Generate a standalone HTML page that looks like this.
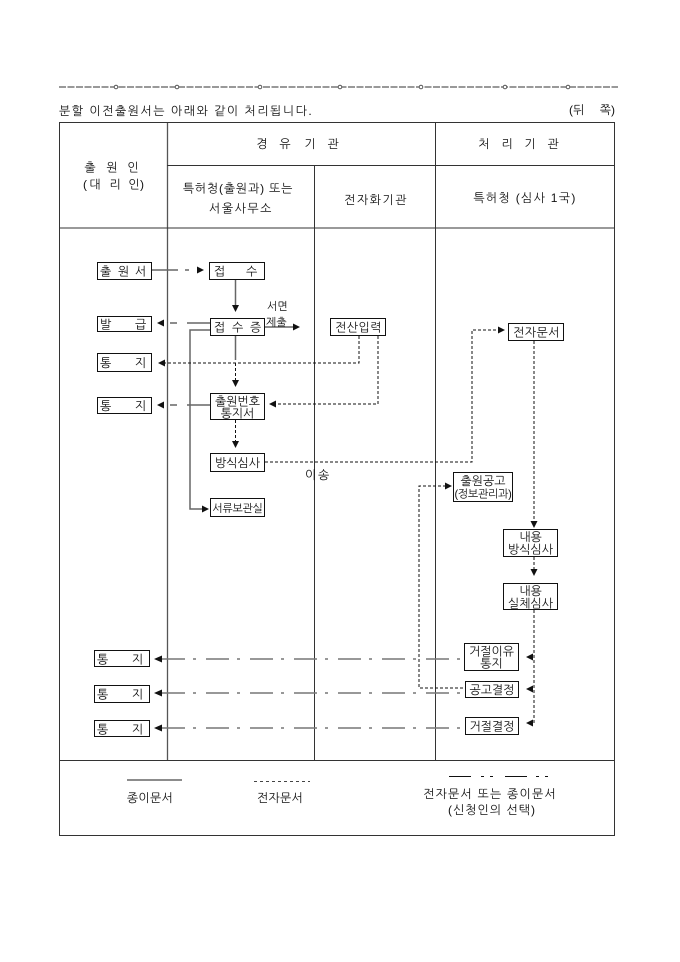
<!DOCTYPE html>
<html><head><meta charset="utf-8"><style>
html,body{margin:0;padding:0;background:#fff;}
svg{display:block;}
text{font-family:"Liberation Sans","NanumGothic","Noto Sans CJK KR",sans-serif;fill:#111;}
.t12{font-size:12px;}
.t11{font-size:11px;}
.b12{font-size:12px;}
.bx{fill:#fff;stroke:#111;stroke-width:1;}
.tb{stroke:#333;stroke-width:1;fill:none;}
.pp{stroke:#666;stroke-width:1.5;fill:none;}
.el{stroke:#111;stroke-width:1;stroke-dasharray:3 2;fill:none;}
.dd{stroke:#777;stroke-width:1.5;stroke-dasharray:23 8 3 10;fill:none;}
.ah{fill:#111;}
</style></head><body>
<svg width="680" height="962" viewBox="0 0 680 962" xmlns="http://www.w3.org/2000/svg">
<rect width="680" height="962" fill="#fff"/>
<!-- top dashed line -->
<line x1="59" y1="87" x2="618" y2="87" stroke="#333" stroke-width="1" stroke-dasharray="7 1.5"/>
<g fill="#fff" stroke="#555" stroke-width="1">
<circle cx="116" cy="87" r="1.8"/><circle cx="177" cy="87" r="1.8"/><circle cx="260" cy="87" r="1.8"/>
<circle cx="340" cy="87" r="1.8"/><circle cx="421" cy="87" r="1.8"/><circle cx="505" cy="87" r="1.8"/><circle cx="568" cy="87" r="1.8"/>
</g>
<text class="t12" x="59" y="115" letter-spacing="1.5">분할 이전출원서는 아래와 같이 처리됩니다.</text>
<text class="t12" x="569" y="114">(뒤</text>
<text class="t12" x="615" y="114" text-anchor="end">쪽)</text>

<!-- table -->
<rect class="tb" x="59.5" y="122.5" width="555" height="713"/>
<line x1="167.5" y1="123" x2="167.5" y2="760" stroke="#555" stroke-width="1.3"/>
<line class="tb" x1="435.5" y1="123" x2="435.5" y2="760"/>
<line class="tb" x1="314.5" y1="165" x2="314.5" y2="760"/>
<line class="tb" x1="167" y1="165.5" x2="614" y2="165.5"/>
<line class="tb" x1="59" y1="228" x2="614" y2="228"/>
<line class="tb" x1="59" y1="760.5" x2="614" y2="760.5"/>

<!-- headers -->
<g class="t12" text-anchor="middle">
<text x="90" y="171.5">출</text><text x="112" y="171.5">원</text><text x="133" y="171.5">인</text>
<text x="85" y="188.5">(</text><text x="95" y="188.5">대</text><text x="115" y="188.5">리</text><text x="134" y="188.5">인</text><text x="142" y="188.5">)</text>
<text x="262" y="148">경</text><text x="285" y="148">유</text><text x="310" y="148">기</text><text x="333" y="148">관</text>
<text x="484" y="148">처</text><text x="507" y="148">리</text><text x="530" y="148">기</text><text x="553" y="148">관</text>
</g>
<text class="t12" x="238" y="192.5" text-anchor="middle" letter-spacing="0.8">특허청(출원과) 또는</text>
<text class="t12" x="241" y="212.5" text-anchor="middle" letter-spacing="1.5">서울사무소</text>
<text class="t12" x="376" y="204" text-anchor="middle" letter-spacing="1.5">전자화기관</text>
<text class="t12" x="525" y="202" text-anchor="middle" letter-spacing="1.3">특허청 (심사 1국)</text>

<!-- connectors: paper (solid gray) -->
<line class="pp" x1="152" y1="270" x2="178" y2="270"/>
<line class="pp" x1="185" y1="270" x2="189" y2="270"/>
<polygon class="ah" points="204,270 197,266.5 197,273.5"/>

<line class="pp" x1="235.5" y1="280" x2="235.5" y2="306"/>
<polygon class="ah" points="235.5,312 232,305 239,305"/>

<line class="pp" x1="210" y1="323" x2="187" y2="323"/>
<line class="pp" x1="177" y1="323" x2="170" y2="323"/>
<polygon class="ah" points="157,323 164,319.5 164,326.5"/>

<line class="pp" x1="265" y1="327" x2="294" y2="327"/>
<polygon class="ah" points="300,327 293,323.5 293,330.5"/>

<polyline class="pp" points="210,330 190,330 190,509 203,509"/>
<polygon class="ah" points="209,509 202,505.5 202,512.5"/>

<line class="pp" x1="235.5" y1="336" x2="235.5" y2="360"/>
<line class="el" x1="235.5" y1="363" x2="235.5" y2="380"/>
<polygon class="ah" points="235.5,387 232,380 239,380"/>

<line class="pp" x1="210" y1="405" x2="187" y2="405"/>
<line class="pp" x1="177" y1="405" x2="170" y2="405"/>
<polygon class="ah" points="157,405 164,401.5 164,408.5"/>

<!-- electronic (dotted) -->
<polyline class="el" points="359,336 359,363 164,363"/>
<polygon class="ah" points="158,363 165,359.5 165,366.5"/>
<polyline class="el" points="378,336 378,404 275,404"/>
<polygon class="ah" points="269,404 276,400.5 276,407.5"/>
<line class="el" x1="235.5" y1="420" x2="235.5" y2="441"/>
<polygon class="ah" points="235.5,448 232,441 239,441"/>
<polyline class="el" points="265,462 472,462 472,330 499,330"/>
<polygon class="ah" points="505,330 498,326.5 498,333.5"/>
<line class="el" x1="534" y1="341" x2="534" y2="521"/>
<polygon class="ah" points="534,528 530.5,521 537.5,521"/>
<line class="el" x1="534" y1="557" x2="534" y2="569"/>
<polygon class="ah" points="534,576 530.5,569 537.5,569"/>
<polyline class="el" points="534,610 534,723 532,723"/>
<polygon class="ah" points="526,657 533,653.5 533,660.5"/>
<polygon class="ah" points="526,689 533,685.5 533,692.5"/>
<polygon class="ah" points="526,723 533,719.5 533,726.5"/>
<polyline class="el" points="446,486 419,486 419,688 465,688"/>
<polygon class="ah" points="452,486 445,482.5 445,489.5"/>

<!-- dash-dot -->
<line class="dd" x1="162" y1="659" x2="464" y2="659"/>
<polygon class="ah" points="154,659 162,655.5 162,662.5"/>
<line class="dd" x1="162" y1="693" x2="465" y2="693"/>
<polygon class="ah" points="154,693 162,689.5 162,696.5"/>
<line class="dd" x1="162" y1="728" x2="465" y2="728"/>
<polygon class="ah" points="154,728 162,724.5 162,731.5"/>

<!-- boxes -->
<rect class="bx" x="97.5" y="262.5" width="54" height="17"/>
<g class="b12"><text x="100" y="275.5">출</text><text x="118" y="275.5">원</text><text x="135" y="275.5">서</text></g>
<rect class="bx" x="209.5" y="262.5" width="55" height="17"/>
<g class="b12"><text x="214" y="275.5">접</text><text x="246" y="275.5">수</text></g>
<rect class="bx" x="97.5" y="316.5" width="54" height="15"/>
<g class="b12"><text x="100" y="328.5">발</text><text x="135" y="328.5">급</text></g>
<rect class="bx" x="210.5" y="318.5" width="54" height="17"/>
<g class="b12"><text x="214" y="331.5">접</text><text x="232" y="331.5">수</text><text x="250" y="331.5">증</text></g>
<text class="t11" x="267" y="310">서면</text>
<text class="t11" x="266" y="326">제출</text>
<rect class="bx" x="330.5" y="318.5" width="55" height="17"/>
<text class="b12" x="358.5" y="331.5" text-anchor="middle" letter-spacing="0.5">전산입력</text>
<rect class="bx" x="97.5" y="353.5" width="54" height="18"/>
<g class="b12"><text x="100" y="367">통</text><text x="135" y="367">지</text></g>
<rect class="bx" x="97.5" y="397.5" width="54" height="16"/>
<g class="b12"><text x="100" y="410">통</text><text x="135" y="410">지</text></g>
<rect class="bx" x="210.5" y="393.5" width="54" height="26"/>
<text class="b12" x="237.5" y="405.5" text-anchor="middle">출원번호</text>
<text class="b12" x="237.5" y="417.5" text-anchor="middle">통지서</text>
<rect class="bx" x="210.5" y="453.5" width="54" height="18"/>
<text class="b12" x="237.5" y="467" text-anchor="middle">방식심사</text>
<text class="t12" x="305" y="479">이</text><text class="t12" x="318" y="479">송</text>
<rect class="bx" x="210.5" y="498.5" width="54" height="18"/>
<text class="t11" x="237.5" y="512" text-anchor="middle" letter-spacing="-0.3">서류보관실</text>
<rect class="bx" x="508.5" y="323.5" width="55" height="17"/>
<text class="b12" x="536.5" y="336.5" text-anchor="middle" letter-spacing="0.5">전자문서</text>
<rect class="bx" x="453.5" y="472.5" width="59" height="29"/>
<text class="b12" x="483" y="485" text-anchor="middle">출원공고</text>
<text class="t11" x="483" y="497.5" text-anchor="middle" letter-spacing="-0.3">(정보관리과)</text>
<rect class="bx" x="503.5" y="529.5" width="54" height="27"/>
<text class="b12" x="530.5" y="541" text-anchor="middle">내용</text>
<text class="b12" x="530.5" y="553.5" text-anchor="middle">방식심사</text>
<rect class="bx" x="503.5" y="583.5" width="54" height="26"/>
<text class="b12" x="530.5" y="595" text-anchor="middle">내용</text>
<text class="b12" x="530.5" y="607.5" text-anchor="middle">실체심사</text>
<rect class="bx" x="464.5" y="643.5" width="54" height="27"/>
<text class="b12" x="491.5" y="655.5" text-anchor="middle">거절이유</text>
<text class="b12" x="491.5" y="667.5" text-anchor="middle">통지</text>
<rect class="bx" x="465.5" y="681.5" width="53" height="16"/>
<text class="b12" x="492" y="694" text-anchor="middle">공고결정</text>
<rect class="bx" x="465.5" y="717.5" width="53" height="17"/>
<text class="b12" x="492" y="730.5" text-anchor="middle">거절결정</text>
<rect class="bx" x="94.5" y="650.5" width="55" height="16"/>
<g class="b12"><text x="97" y="663.5">통</text><text x="132" y="663.5">지</text></g>
<rect class="bx" x="94.5" y="685.5" width="55" height="17"/>
<g class="b12"><text x="97" y="698.5">통</text><text x="132" y="698.5">지</text></g>
<rect class="bx" x="94.5" y="720.5" width="55" height="16"/>
<g class="b12"><text x="97" y="733.5">통</text><text x="132" y="733.5">지</text></g>

<!-- legend -->
<line class="pp" x1="127" y1="780" x2="182" y2="780"/>
<text class="t12" x="150" y="802" text-anchor="middle" letter-spacing="0.3">종이문서</text>
<line x1="254" y1="781.5" x2="310" y2="781.5" stroke="#444" stroke-width="1" stroke-dasharray="3 3"/>
<text class="t12" x="280" y="802" text-anchor="middle" letter-spacing="0.3">전자문서</text>
<g stroke="#111" stroke-width="1">
<line x1="449" y1="776.5" x2="471" y2="776.5"/>
<line x1="481" y1="776.5" x2="484" y2="776.5"/>
<line x1="490" y1="776.5" x2="493" y2="776.5"/>
<line x1="505" y1="776.5" x2="527" y2="776.5"/>
<line x1="536" y1="776.5" x2="539" y2="776.5"/>
<line x1="545" y1="776.5" x2="548" y2="776.5"/>
</g>
<text class="t12" x="490" y="798" text-anchor="middle" letter-spacing="1.2">전자문서 또는 종이문서</text>
<text class="t12" x="492" y="814" text-anchor="middle" letter-spacing="1">(신청인의 선택)</text>
</svg>
</body></html>
